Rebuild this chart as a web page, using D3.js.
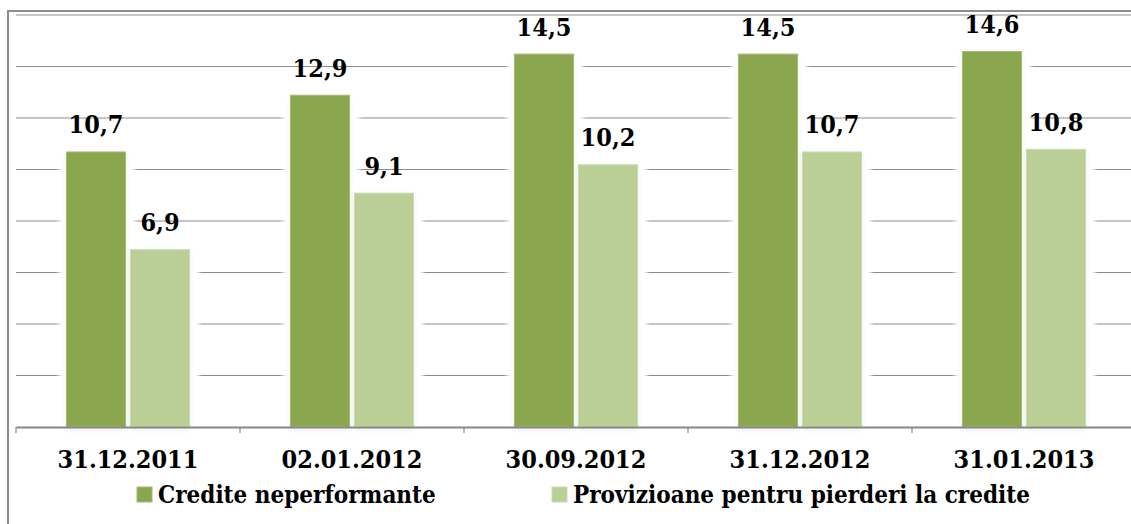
<!DOCTYPE html>
<html>
<head>
<meta charset="utf-8">
<script src="https://cdn.jsdelivr.net/npm/d3@7"></script>
<style>
  html, body { margin: 0; padding: 0; background: #fff; }
  svg { display: block; }
  svg text { font-family: "DejaVu Serif Condensed", "DejaVu Serif", serif; font-weight: bold; }
</style>
</head>
<body>
<div id="chart"></div>
<script>
const width = 1131, height = 524;

// data
const dates = ["31.12.2011", "02.01.2012", "30.09.2012", "31.12.2012", "31.01.2013"];
const seriesNames = ["Credite neperformante", "Provizioane pentru pierderi la credite"];
const neperformante = [10.7, 12.9, 14.5, 14.5, 14.6];
const provizioane = [6.9, 9.1, 10.2, 10.7, 10.8];
const yTicks = [2, 4, 6, 8, 10, 12, 14, 16];

const colors = ["#8aa64f", "#b9cf96"];
const edges = ["#a3bb73", "#cbdbb0"];

const fmt = v => v.toFixed(1).replace(".", ",");

// one entry per bar
const bars = [];
dates.forEach((d, i) => {
    bars.push({ date: d, k: 0, v: neperformante[i] });
    bars.push({ date: d, k: 1, v: provizioane[i] });
});

const svg = d3.select("#chart").append("svg")
    .attr("width", width)
    .attr("height", height);

svg.append("rect").attr("width", width).attr("height", height).attr("fill", "#fff");

const defs = svg.append("defs");
defs.append("filter").attr("id", "halo")
    .attr("x", "-30%").attr("y", "-30%").attr("width", "160%").attr("height", "160%")
    .append("feGaussianBlur").attr("stdDeviation", 2);
defs.append("filter").attr("id", "shade")
    .attr("x", "-30%").attr("y", "-30%").attr("width", "160%").attr("height", "160%")
    .append("feGaussianBlur").attr("stdDeviation", 2.5);

// scales
const x0 = d3.scaleBand().domain(dates).range([16, 1136]);
const x1 = d3.scaleBand().domain([0, 1]).range([50, 174]).paddingInner(0.0625);
const y = d3.scaleLinear().domain([0, 16]).range([427, 15]);
const bx = d => x0(d.date) + x1(d.k);

// gridlines
svg.append("g").selectAll("line")
    .data(yTicks)
    .enter().append("line")
    .attr("x1", 16).attr("x2", 1136)
    .attr("y1", d => y(d)).attr("y2", d => y(d))
    .attr("stroke", "#8c8c8c")
    .attr("stroke-width", 1.2);

// outer frame (left and top)
svg.append("path")
    .attr("d", "M8,530V11H1140")
    .attr("fill", "none")
    .attr("stroke", "#8c8c8c")
    .attr("stroke-width", 2);

// white glow that cuts the gridlines round the bars
svg.append("g").selectAll("rect")
    .data(bars)
    .enter().append("rect")
    .attr("x", d => bx(d) - 7)
    .attr("y", d => y(d.v) - 7)
    .attr("width", x1.bandwidth() + 16)
    .attr("height", d => y(0) - y(d.v) + 7)
    .attr("fill", "#fff")
    .attr("filter", "url(#halo)");

// faint grey shadow
svg.append("g").selectAll("rect")
    .data(bars)
    .enter().append("rect")
    .attr("x", d => bx(d))
    .attr("y", d => y(d.v) + 1)
    .attr("width", x1.bandwidth())
    .attr("height", d => y(0) - y(d.v) + 2)
    .attr("fill", "#000")
    .attr("opacity", 0.07)
    .attr("filter", "url(#shade)");

svg.append("g").selectAll("rect")
    .data(bars)
    .enter().append("rect")
    .attr("x", d => bx(d) + 0.5)
    .attr("y", d => y(d.v) + 0.5)
    .attr("width", x1.bandwidth() - 1)
    .attr("height", d => y(0) - y(d.v) - 1)
    .attr("fill", d => colors[d.k])
    .attr("stroke", d => edges[d.k])
    .attr("stroke-width", 1);

svg.append("g").selectAll("text")
    .data(bars)
    .enter().append("text")
    .attr("x", d => bx(d) + x1.bandwidth() / 2)
    .attr("y", d => y(d.v) - 18)
    .attr("text-anchor", "middle")
    .attr("font-size", 25)
    .attr("fill", "#000")
    .text(d => fmt(d.v));

// x axis
const xAxis = svg.append("g")
    .attr("transform", `translate(0,${y(0)})`)
    .call(d3.axisBottom(x0).tickSize(0).tickSizeOuter(0).tickPadding(23));

xAxis.attr("font-family", null).attr("font-size", null);
xAxis.select(".domain")
    .attr("stroke", "#868686")
    .attr("stroke-width", 2);
xAxis.selectAll("text")
    .attr("font-size", 25)
    .attr("fill", "#000");

// category boundary ticks
xAxis.selectAll("line.sep")
    .data(dates.map(d => x0(d)).concat([x0.range()[1]]))
    .enter().append("line")
    .attr("class", "sep")
    .attr("x1", d => d).attr("x2", d => d)
    .attr("y1", 0).attr("y2", 6)
    .attr("stroke", "#868686")
    .attr("stroke-width", 1.2);

// legend
const legendX = [137, 552];
const legend = svg.append("g").selectAll("g")
    .data(seriesNames)
    .enter().append("g")
    .attr("transform", (d, i) => `translate(${legendX[i]},487)`);

legend.append("rect")
    .attr("width", 15).attr("height", 15)
    .attr("fill", (d, i) => colors[i])
    .attr("stroke", (d, i) => edges[i]);

legend.append("text")
    .attr("x", 21)
    .attr("y", 16)
    .attr("font-size", 24)
    .attr("fill", "#000")
    .text(d => d);
</script>
</body>
</html>
